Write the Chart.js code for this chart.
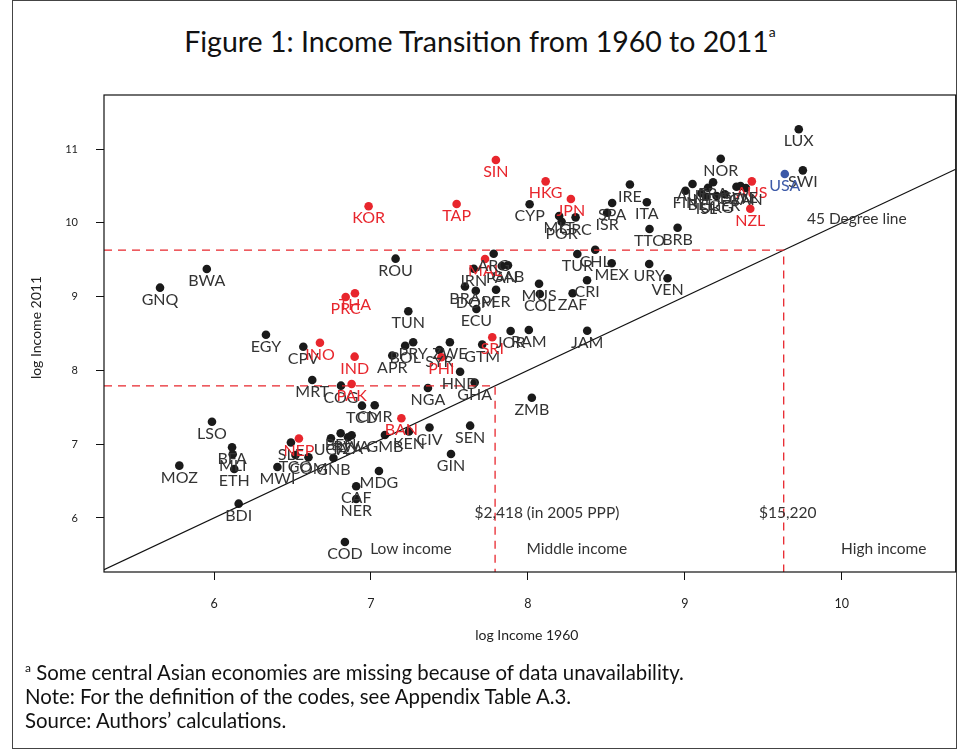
<!DOCTYPE html>
<html><head><meta charset="utf-8">
<script src="https://cdn.jsdelivr.net/npm/chart.js@4.4.1/dist/chart.umd.min.js"></script>
<style>
html,body{margin:0;padding:0;background:#fff;}
#wrap{position:relative;width:960px;height:751px;overflow:hidden;font-family:Lato,"Open Sans",sans-serif;color:#111;}
#frame{position:absolute;left:12px;top:0;width:945px;height:749px;border:1px solid #444;box-sizing:border-box;}
#title{position:absolute;left:0;top:24px;width:960px;text-align:center;font-size:28.5px;}
#title sup{font-size:14px;vertical-align:top;position:relative;top:-1px;}
#c{position:absolute;left:0;top:0;}
.note{position:absolute;left:25px;font-size:20.4px;color:#111;}
.note sup{font-size:12px;}
</style></head>
<body><div id="wrap">
<div id="frame"></div>
<div id="title">Figure 1: Income Transition from 1960 to 2011<sup>a</sup></div>
<canvas id="c" width="960" height="751"></canvas>
<div class="note" style="top:660px"><sup>a</sup> Some central Asian economies are missing because of data unavailability.</div>
<div class="note" style="top:684px">Note: For the definition of the codes, see Appendix Table A.3.</div>
<div class="note" style="top:708px">Source: Authors’ calculations.</div>
</div>
<script>
// ---- data ----
const codes = ["GNQ","BWA","ROU","PRC","THA","TUN","EGY","CPV","INO","IND","APR","BOL","PRY","MRT","COG","PAK","TCD","CMR","BAN","LSO","BFA","MLI","ETH","MOZ","MWI","SLE","NEP","TGO","COM","GNB","UGA","BEN","TZA","RWA","GMB","KEN","CIV","MDG","CAF","NER","BDI","COD","GIN","SEN","ZMB","NGA","GHA","HND","SYR","PHI","ZWE","GTM","SRI","JOR","RAM","JAM","ECU","BRA","DOM","PER","IRN","PAN","GAB","MAL","ARG","MUS","COL","ZAF","CRI","TUR","CHL","MEX","URY","VEN","TTO","BRB","SIN","HKG","JPN","TAP","KOR","CYP","MLT","POR","GRC","ISR","SPA","IRE","ITA","NOR","LUX","SWI","USA","AUS","NZL","FIN","AUT","BEL","NET","ISL","FRA","UKG","GER","DEN","SWE","CAN"];
const income1960 = [5.656,5.954,7.157,6.839,6.898,7.238,6.331,6.569,6.675,6.896,7.136,7.218,7.269,6.626,6.809,6.877,6.943,7.024,7.194,5.987,6.115,6.119,6.129,5.779,6.404,6.490,6.541,6.519,6.602,6.761,6.745,6.807,6.854,6.877,7.089,7.242,7.373,7.051,6.906,6.906,6.157,6.834,7.510,7.632,8.025,7.363,7.661,7.568,7.436,7.449,7.503,7.709,7.773,7.890,8.006,8.378,7.672,7.599,7.668,7.797,7.655,7.834,7.873,7.727,7.782,8.071,8.076,8.285,8.377,8.315,8.429,8.534,8.773,8.890,8.775,8.954,7.796,8.113,8.274,7.546,6.985,8.011,8.199,8.215,8.304,8.505,8.537,8.650,8.758,9.229,9.726,9.752,9.637,9.427,9.417,9.004,9.049,9.106,9.148,9.138,9.180,9.202,9.255,9.329,9.355,9.389];
const income2011 = [9.121,9.374,9.514,8.995,9.045,8.801,8.484,8.321,8.375,8.186,8.202,8.335,8.381,7.870,7.793,7.816,7.522,7.527,7.351,7.305,6.958,6.863,6.664,6.709,6.691,7.023,7.077,6.854,6.822,6.813,7.080,7.148,7.095,7.122,7.125,7.172,7.226,6.637,6.430,6.257,6.194,5.675,6.867,7.251,7.630,7.762,7.836,7.981,8.276,8.178,8.381,8.351,8.450,8.534,8.547,8.537,8.832,9.137,9.079,9.093,9.378,9.415,9.424,9.509,9.581,9.175,9.035,9.045,9.222,9.577,9.634,9.451,9.442,9.248,9.916,9.934,10.851,10.562,10.322,10.255,10.224,10.251,10.092,10.015,10.074,10.137,10.268,10.519,10.279,10.867,11.267,10.711,10.661,10.562,10.190,10.435,10.526,10.400,10.476,10.354,10.549,10.363,10.386,10.489,10.499,10.472];
// highlighted groups
const redCodes = ["PRC","THA","INO","IND","PAK","BAN","NEP","PHI","SRI","MAL","SIN","HKG","JPN","TAP","KOR","AUS","NZL"];
const blueCodes = ["USA"];
const xTicks = [6,7,8,9,10];
const yTicks = [6,7,8,9,10,11];
const xRange = [5.299,10.726];
const yRange = [5.268,11.732];
const lowThreshold = 7.791;   // log $2,418
const highThreshold = 9.630;  // log $15,220
const annotations = [
  {text:"$2,418 (in 2005 PPP)", x:8.121, y:6.068},
  {text:"$15,220", x:9.656, y:6.068},
  {text:"Low income", x:7.255, y:5.58},
  {text:"Middle income", x:8.312, y:5.58},
  {text:"High income", x:10.268, y:5.58},
  {text:"45 Degree line", x:10.096, y:10.054}
];

const BLACK="#1a1a1a", RED="#e8262d", BLUE="#3d5aa8";
function groupOf(c){ return blueCodes.includes(c)?2:(redCodes.includes(c)?1:0); }
const colorOf = g => g===2?BLUE:(g===1?RED:BLACK);
const labelColorOf = g => g===2?BLUE:(g===1?RED:"#333");

const pts = codes.map((c,i)=>({x:income1960[i], y:income2011[i], code:c, g:groupOf(c)}));

const dashStyle = {borderColor:RED, borderWidth:1.3, borderDash:[8,6], pointRadius:0, showLine:true, fill:false, type:'line'};

const labelPlugin = {
  id:'labels',
  afterDatasetsDraw(chart){
    const ctx = chart.ctx, xs = chart.scales.x, ys = chart.scales.y, a = chart.chartArea;
    ctx.save();
    ctx.textAlign='center'; ctx.textBaseline='middle';
    ctx.font='16px Lato, "Open Sans", sans-serif';
    pts.forEach(p=>{
      ctx.fillStyle = labelColorOf(p.g);
      ctx.fillText(p.code, xs.getPixelForValue(p.x), ys.getPixelForValue(p.y)+12);
    });
    ctx.font='15.5px Lato, "Open Sans", sans-serif';
    ctx.fillStyle='#333';
    annotations.forEach(t=>ctx.fillText(t.text, xs.getPixelForValue(t.x), ys.getPixelForValue(t.y)));
    // frame
    ctx.strokeStyle='#111'; ctx.lineWidth=1.2;
    ctx.strokeRect(a.left, a.top, a.right-a.left, a.bottom-a.top);
    // axis titles
    ctx.font='14px Lato, "Open Sans", sans-serif';
    ctx.fillStyle='#222';
    ctx.fillText("log Income 1960", (a.left+a.right)/2 - 3, 635);
    ctx.translate(36, (a.top+a.bottom)/2 - 6);
    ctx.rotate(-Math.PI/2);
    ctx.fillText("log Income 2011", 0, 0);
    ctx.restore();
  }
};

new Chart(document.getElementById('c'), {
  type:'scatter',
  data:{datasets:[
    Object.assign({data:[{x:xRange[0],y:lowThreshold},{x:lowThreshold,y:lowThreshold},{x:lowThreshold,y:yRange[0]}]}, dashStyle),
    Object.assign({data:[{x:xRange[0],y:highThreshold},{x:highThreshold,y:highThreshold},{x:highThreshold,y:yRange[0]}]}, dashStyle),
    {type:'line', data:[{x:xRange[0],y:xRange[0]},{x:xRange[1],y:xRange[1]}], borderColor:'#111', borderWidth:1.1, pointRadius:0, fill:false},
    {data:pts, pointRadius:4.3, pointHoverRadius:4.3, borderWidth:0,
     pointBackgroundColor:pts.map(p=>colorOf(p.g)), pointBorderColor:pts.map(p=>colorOf(p.g))}
  ]},
  options:{
    responsive:false, animation:false, devicePixelRatio:1,
    layout:{padding:{left:0,right:4,top:95,bottom:0}},
    plugins:{legend:{display:false}, tooltip:{enabled:false}, title:{display:false}},
    scales:{
      x:{type:'linear', min:xRange[0], max:xRange[1],
         afterBuildTicks:s=>{s.ticks=xTicks.map(v=>({value:v}));},
         afterFit:s=>{s.height=179;},
         grid:{drawOnChartArea:false, drawTicks:true, tickLength:8, color:'#111', lineWidth:1},
         border:{display:false},
         ticks:{padding:16, color:'#222', font:{size:12.5, family:'Lato, "Open Sans", sans-serif'}, maxRotation:0, autoSkip:false}},
      y:{type:'linear', min:yRange[0], max:yRange[1],
         afterBuildTicks:s=>{s.ticks=yTicks.map(v=>({value:v}));},
         afterFit:s=>{s.width=104;},
         grid:{drawOnChartArea:false, drawTicks:true, tickLength:8, color:'#111', lineWidth:1},
         border:{display:false},
         ticks:{padding:18, color:'#222', font:{size:11, family:'Lato, "Open Sans", sans-serif'}, autoSkip:false}}
    }
  },
  plugins:[labelPlugin]
});
</script>
</body></html>
